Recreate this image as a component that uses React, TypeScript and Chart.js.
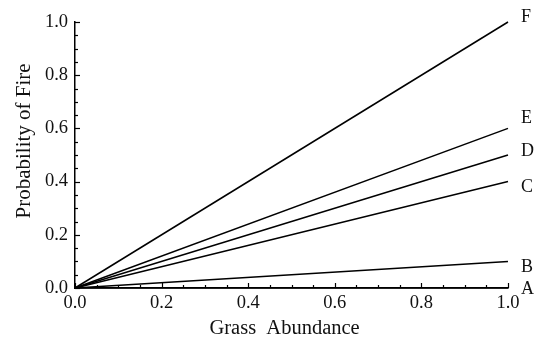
import React, { useEffect, useRef } from "react";
import { Chart, registerables } from "chart.js";

Chart.register(...registerables);

const curveNames = ["A", "B", "C", "D", "E", "F"];
const xStart = 0;
const xEnd = 1;
const endValues = [0, 0.1, 0.4, 0.5, 0.6, 1.0];
const labelNudge = [1, 6, 6, -4, -10, -5];
const xTitle = "Grass  Abundance";
const yTitle = "Probability of Fire";

const FONT = "'Liberation Serif', 'Times New Roman', serif";

const tickAndLabelPlugin = {
  id: "tickAndLabel",
  afterDraw(chart: any) {
    const { ctx, chartArea, scales } = chart;
    const xs = scales.x;
    const ys = scales.y;
    ctx.save();
    ctx.strokeStyle = "#000";
    ctx.lineWidth = 1.2;
    for (let i = 0; i <= 20; i++) {
      const v = i / 20;
      const len = i % 4 === 0 ? 5 : 3;
      const px = Math.round(xs.getPixelForValue(v)) + 0.5;
      ctx.beginPath();
      ctx.moveTo(px, chartArea.bottom);
      ctx.lineTo(px, chartArea.bottom - len);
      ctx.stroke();
      const py = Math.round(ys.getPixelForValue(v)) + 0.5;
      ctx.beginPath();
      ctx.moveTo(chartArea.left, py);
      ctx.lineTo(chartArea.left + len, py);
      ctx.stroke();
    }
    ctx.fillStyle = "#111";
    ctx.font = `18px ${FONT}`;
    ctx.textAlign = "left";
    ctx.textBaseline = "middle";
    curveNames.forEach((name, i) => {
      const px = xs.getPixelForValue(xEnd) + 13;
      const py = ys.getPixelForValue(endValues[i]) + labelNudge[i];
      ctx.fillText(name, px, py);
    });
    // axis titles
    ctx.textAlign = "center";
    ctx.font = `20.5px ${FONT}`;
    ctx.fillText(xTitle, chartArea.left + (chartArea.right - chartArea.left) * 0.484, chartArea.bottom + 41);
    ctx.save();
    ctx.translate(24, chartArea.top + (chartArea.bottom - chartArea.top) * 0.447);
    ctx.rotate(-Math.PI / 2);
    ctx.font = `21px ${FONT}`;
    ctx.fillText(yTitle, 0, 0);
    ctx.restore();
    ctx.restore();
  },
};

export default function App() {
  const ref = useRef<HTMLCanvasElement>(null);
  useEffect(() => {
    if (!ref.current) return;
    const datasets = curveNames.map((name, i) => ({
      label: name,
      data: [
        { x: xStart, y: 0 },
        { x: xEnd, y: endValues[i] },
      ],
      showLine: true,
      borderColor: "#000",
      borderWidth: 1.5,
      pointRadius: 0,
      fill: false,
      clip: false as any,
    }));
    const chart = new Chart(ref.current, {
      type: "scatter",
      data: { datasets },
      plugins: [tickAndLabelPlugin],
      options: {
        animation: false,
        responsive: false,
        layout: { padding: { top: 22, right: 30, left: 0, bottom: 0 } },
        plugins: { legend: { display: false }, tooltip: { enabled: false } },
        scales: {
          x: {
            type: "linear",
            min: 0,
            max: 1,
            afterFit(scale: any) {
              scale.height = 56;
            },
            grid: { display: false, drawTicks: false },
            border: { display: true, color: "#000", width: 1.5 },
            ticks: {
              stepSize: 0.2,
              padding: 4,
              color: "#111",
              font: { family: FONT, size: 18.5 },
              callback: (v: any) => Number(v).toFixed(1),
              maxRotation: 0,
            },
            title: { display: false },
          },
          y: {
            type: "linear",
            min: 0,
            max: 1,
            afterFit(scale: any) {
              scale.width = 75;
            },
            grid: { display: false, drawTicks: false },
            border: { display: true, color: "#000", width: 1.5 },
            ticks: {
              stepSize: 0.2,
              padding: 7,
              color: "#111",
              font: { family: FONT, size: 18.5 },
              callback: (v: any) => Number(v).toFixed(1),
            },
            title: { display: false },
          },
        },
      },
    });
    return () => chart.destroy();
  }, []);
  return (
    <div style={{ position: "fixed", left: 0, top: 0, width: 538, height: 344, background: "#fff" }}>
      <canvas ref={ref} width={538} height={344} style={{ width: 538, height: 344 }} />
    </div>
  );
}
